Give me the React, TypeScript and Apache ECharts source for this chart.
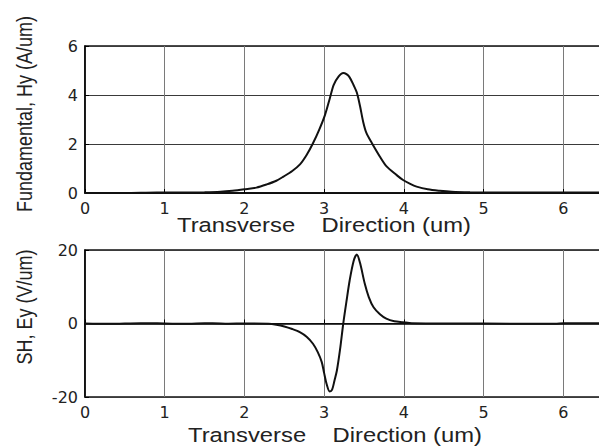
import React, { useEffect, useRef } from "react";
import * as echarts from "echarts";

const hyX = [0, 0.5, 0.9, 1.2, 1.5, 1.7, 1.85, 2.0, 2.15, 2.28, 2.4, 2.49, 2.6, 2.7, 2.78, 2.86, 2.94, 3.01, 3.07, 3.12, 3.18, 3.24, 3.28, 3.32, 3.37, 3.41, 3.45, 3.49, 3.53, 3.6, 3.7, 3.78, 3.91, 3.99, 4.08, 4.16, 4.3, 4.45, 4.6, 4.83, 5.2, 6, 7];
const hyY = [0, 0, 0.02, 0.02, 0.03, 0.05, 0.09, 0.15, 0.22, 0.35, 0.5, 0.67, 0.9, 1.18, 1.55, 2.03, 2.6, 3.18, 3.85, 4.41, 4.75, 4.9, 4.85, 4.72, 4.4, 4.1, 3.55, 2.9, 2.45, 2.03, 1.48, 1.1, 0.73, 0.53, 0.37, 0.26, 0.15, 0.09, 0.05, 0.03, 0.02, 0.02, 0.02];

const eyX = [0, 0.3, 0.7, 1.0, 1.3, 1.5, 1.6, 1.8, 2.0, 2.3, 2.4, 2.5, 2.6, 2.7, 2.78, 2.86, 2.92, 2.97, 3.0, 3.03, 3.07, 3.1, 3.13, 3.16, 3.2, 3.24, 3.28, 3.32, 3.37, 3.41, 3.45, 3.51, 3.56, 3.62, 3.7, 3.78, 3.88, 3.99, 4.1, 5.0, 5.9, 6.0, 7];
const eyY = [0, -0.1, 0.1, 0, -0.1, 0.1, 0.1, -0.05, 0, -0.1, -0.35, -0.8, -1.5, -2.4, -3.6, -5.5, -7.8, -10.5, -13.5, -16.4, -18.5, -18.0, -15.5, -12.8, -7, 0, 6, 11.7, 17, 18.8, 16.5, 10.8, 7.2, 4.4, 2.5, 1.3, 0.6, 0.35, 0.1, 0, -0.1, 0.1, 0.1];

const xTitle = "Transverse    Direction (um)";
const hyTitle = "Fundamental, Hy (A/um)";
const eyTitle = "SH, Ey (V/um)";

const font = "Liberation Sans, Arial, sans-serif";
const tickFont = "DejaVu Sans, sans-serif";

export default function App() {
  const ref = useRef<HTMLDivElement>(null);
  useEffect(() => {
    if (!ref.current) return;
    const chart = echarts.init(ref.current, null, { renderer: "svg" });
    const xAxisBase = (gridIndex: number) => ({
      type: "value" as const,
      gridIndex,
      min: 0,
      max: 7,
      interval: 1,
      axisLine: { show: true, lineStyle: { color: "#000", width: 1.5 } },
      axisTick: { show: true, inside: true, length: 4, lineStyle: { color: "#000" } },
      axisLabel: {
        color: "#222",
        fontSize: 16,
        fontFamily: tickFont,
        margin: 7,
        formatter: (v: number) => (v >= 7 ? "" : String(v)),
      },
      splitLine: { show: true, lineStyle: { color: "#7a7a7a", width: 1 } },
    });
    const yAxisBase = (gridIndex: number, min: number, max: number, interval: number) => ({
      type: "value" as const,
      gridIndex,
      min,
      max,
      interval,
      axisLine: { show: true, lineStyle: { color: "#000", width: 1.5 } },
      axisTick: { show: true, inside: true, length: 4, lineStyle: { color: "#000" } },
      axisLabel: { color: "#222", fontSize: 16, fontFamily: tickFont, margin: 7 },
      splitLine: { show: true, lineStyle: { color: "#3a3a3a", width: 1 } },
    });
    chart.setOption({
      animation: false,
      backgroundColor: "#fff",
      grid: [
        { left: 85, top: 46, width: 558, height: 147, outerBoundsMode: "none", containLabel: false, show: true, borderColor: "#111", borderWidth: 1.5, backgroundColor: "transparent" },
        { left: 85, top: 250, width: 558, height: 147, outerBoundsMode: "none", containLabel: false, show: true, borderColor: "#111", borderWidth: 1.5, backgroundColor: "transparent" },
      ],
      xAxis: [xAxisBase(0), xAxisBase(1)],
      yAxis: [yAxisBase(0, 0, 6, 2), yAxisBase(1, -20, 20, 20)],
      series: [
        {
          type: "line",
          xAxisIndex: 0,
          yAxisIndex: 0,
          data: hyX.map((x, i) => [x, hyY[i]]),
          showSymbol: false,
          smooth: 0.3,
          lineStyle: { color: "#111", width: 2 },
        },
        {
          type: "line",
          xAxisIndex: 1,
          yAxisIndex: 1,
          data: eyX.map((x, i) => [x, eyY[i]]),
          showSymbol: false,
          smooth: 0.3,
          lineStyle: { color: "#111", width: 2 },
        },
      ],
      graphic: [
        { type: "text", x: 324, y: 225, scaleX: 1.22, style: { text: xTitle, fontSize: 19.5, fontFamily: font, fill: "#222", align: "center", verticalAlign: "middle" } },
        { type: "text", x: 335, y: 435, scaleX: 1.22, style: { text: xTitle, fontSize: 19.5, fontFamily: font, fill: "#222", align: "center", verticalAlign: "middle" } },
        { type: "text", x: 24, y: 114, rotation: Math.PI / 2, scaleY: 1.2, style: { text: hyTitle, fontSize: 18, fontFamily: font, fill: "#222", align: "center", verticalAlign: "middle" } },
        { type: "text", x: 24, y: 307, rotation: Math.PI / 2, scaleY: 1.2, style: { text: eyTitle, fontSize: 18, fontFamily: font, fill: "#222", align: "center", verticalAlign: "middle" } },
      ],
    });
    return () => chart.dispose();
  }, []);
  return <div ref={ref} style={{ position: "absolute", left: 0, top: 0, width: 599, height: 446, overflow: "hidden" }} />;
}
